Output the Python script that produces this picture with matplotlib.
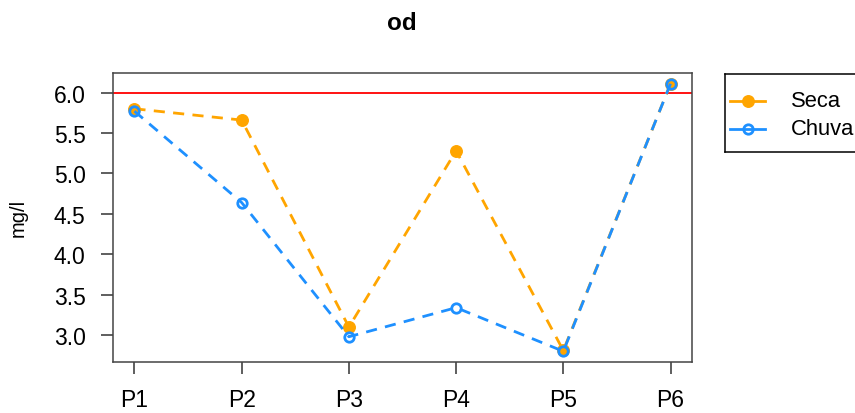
import matplotlib
matplotlib.use("Agg")
import matplotlib.pyplot as plt

plt.rcParams['font.family'] = ['Liberation Sans', 'DejaVu Sans']

points = ["P1", "P2", "P3", "P4", "P5", "P6"]
seca = [5.80, 5.66, 3.10, 5.28, 2.81, 6.11]
chuva = [5.77, 4.64, 2.98, 3.34, 2.80, 6.11]
series_names = ["Seca", "Chuva"]
limit = 6.0
yticks = [3.0, 3.5, 4.0, 4.5, 5.0, 5.5, 6.0]

ORANGE = "#FFA500"
BLUE = "#1E90FF"
W, H = 855, 414
fig = plt.figure(figsize=(W / 100, H / 100), dpi=100)
ax = fig.add_axes([113 / W, 1 - 363 / H, (692 - 113) / W, (363 - 74) / H])

x = list(range(1, len(points) + 1))
dash = (0, (4.0, 3.0))
seca_style = dict(color=ORANGE, lw=2.0, marker="o", ms=8.3, mfc=ORANGE,
                  mec=ORANGE, mew=1.0)
chuva_style = dict(color=BLUE, lw=2.0, marker="o", ms=6.8, mfc="none",
                   mec=BLUE, mew=2.0)

ax.axhline(limit, color="red", lw=1.3, zorder=1)
ax.plot(x, seca, ls=dash, zorder=2, **seca_style)
ax.plot(x, chuva, ls=dash, zorder=3, **chuva_style)

ax.set_xlim(0.8, 6.2)
ymin, ymax = min(seca + chuva), max(seca + chuva)
pad = 0.04 * (ymax - ymin)
ax.set_ylim(ymin - pad, ymax + pad)
ax.set_xticks(x)
ax.set_xticklabels(points)
ax.set_yticks(yticks)
ax.set_yticklabels([f"{v:.1f}" for v in yticks])
ax.tick_params(axis="both", direction="out", length=8.8, width=1.1,
               color="#333333", labelsize=16.5)
ax.tick_params(axis="x", pad=10)
ax.tick_params(axis="y", pad=11)
for s in ax.spines.values():
    s.set_color("#444444")
    s.set_linewidth(1.1)

fig.text(18 / W, 1 - 218 / H, "mg/l", ha="center", va="center",
         rotation=90, fontsize=14.5)
fig.text(402 / W, 1 - 23 / H, "od", ha="center", va="center",
         fontsize=17.5, fontweight="bold")

# legend key drawn in its own pixel-unit axes, right of the plot
lx0, lx1, ly0, ly1 = 725, 880, 75, 153
lax = fig.add_axes([lx0 / W, 1 - ly1 / H, (lx1 - lx0) / W, (ly1 - ly0) / H])
lax.set_xlim(lx0, lx1)
lax.set_ylim(ly1, ly0)
lax.set_xticks([])
lax.set_yticks([])
lax.patch.set_alpha(0)
lax.spines["right"].set_visible(False)
for s in lax.spines.values():
    s.set_color("black")
    s.set_linewidth(1.1)
for row, (name, style) in enumerate(zip(series_names,
                                        [seca_style, chuva_style])):
    yy = 102 + 28 * row
    lax.plot([730, 765], [yy, yy], ls="-", clip_on=False,
             color=style["color"], lw=style["lw"])
    lax.plot([747.5], [yy], ls="none", clip_on=False,
             **{k: v for k, v in style.items() if k != "lw"})
    lax.text(791, yy, name, ha="left", va="center", fontsize=15.8)

fig.savefig("out.png", dpi=100)
